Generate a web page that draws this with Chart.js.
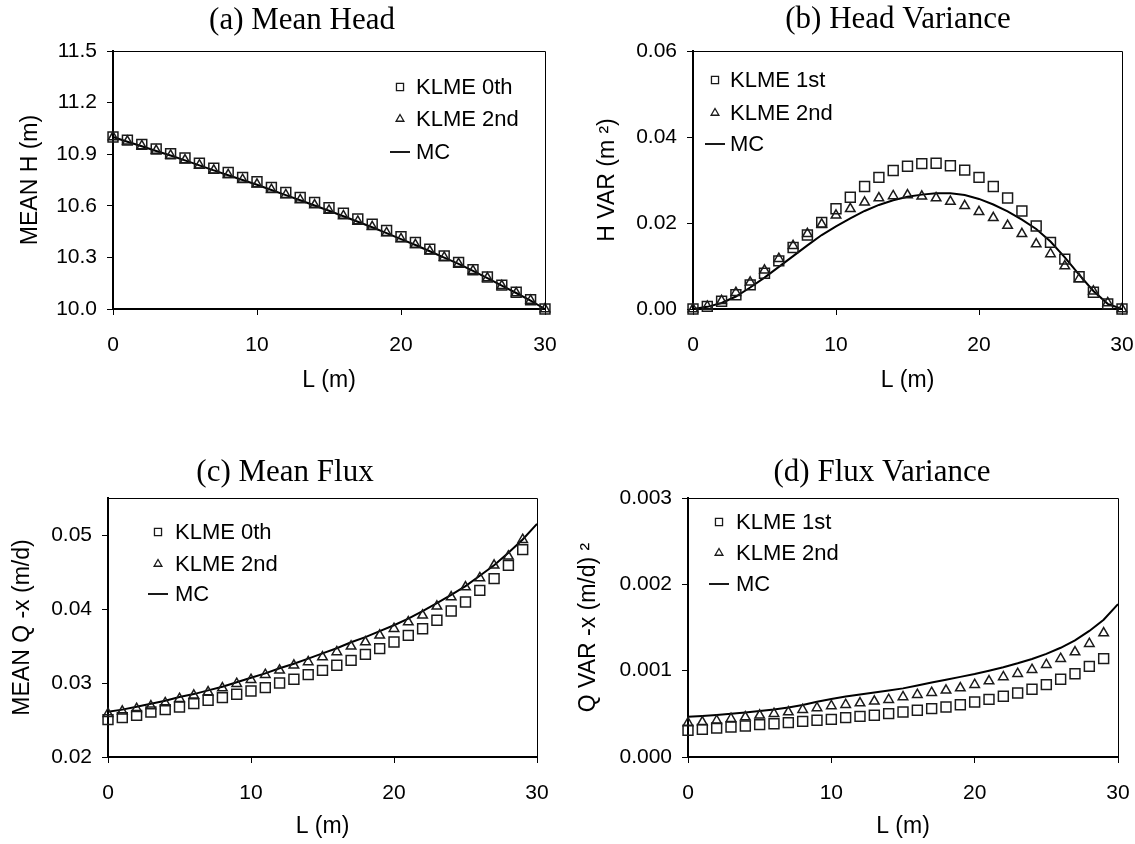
<!DOCTYPE html>
<html><head><meta charset="utf-8">
<script src="https://cdn.jsdelivr.net/npm/chart.js@4.4.1/dist/chart.umd.min.js"></script>
<style>
html,body{margin:0;padding:0;background:#fff;width:1135px;height:844px;overflow:hidden;position:relative}
canvas{position:absolute}
</style></head><body>
<canvas id="ca" width="560" height="400" style="left:0px;top:0px"></canvas>
<canvas id="cb" width="555" height="400" style="left:580px;top:0px"></canvas>
<canvas id="cc" width="560" height="404" style="left:0px;top:440px"></canvas>
<canvas id="cd" width="560" height="404" style="left:575px;top:440px"></canvas>
<script>
// ---- data ----
const L = [0,1,2,3,4,5,6,7,8,9,10,11,12,13,14,15,16,17,18,19,20,21,22,23,24,25,26,27,28,29,30];
const xTicks = [0,10,20,30];

// (a) Mean Head
const headKLME0 = [11.0,10.982,10.957,10.930,10.903,10.878,10.847,10.818,10.794,10.765,10.740,10.707,10.677,10.649,10.620,10.589,10.557,10.524,10.493,10.456,10.421,10.387,10.348,10.309,10.271,10.228,10.186,10.139,10.097,10.054,10.0];
const headKLME2 = [11.0,10.975,10.948,10.921,10.893,10.866,10.836,10.806,10.780,10.752,10.725,10.694,10.663,10.634,10.604,10.573,10.541,10.509,10.478,10.442,10.407,10.373,10.337,10.300,10.263,10.222,10.180,10.135,10.093,10.050,10.0];
const headMC    = [11.0,10.972,10.946,10.919,10.892,10.864,10.835,10.806,10.778,10.750,10.722,10.692,10.662,10.632,10.602,10.571,10.539,10.507,10.475,10.441,10.406,10.372,10.336,10.299,10.262,10.222,10.180,10.136,10.093,10.048,10.0];
const headTicks = [10.0,10.3,10.6,10.9,11.2,11.5];

// (b) Head Variance
const hvarKLME1 = [0,0.0006,0.0018,0.0033,0.0056,0.0083,0.0112,0.0143,0.0172,0.0201,0.0233,0.0260,0.0285,0.0306,0.0322,0.0332,0.0338,0.0339,0.0333,0.0323,0.0306,0.0285,0.0258,0.0228,0.0193,0.0155,0.0116,0.0075,0.0039,0.0012,0];
const hvarKLME2 = [0,0.0006,0.0019,0.0038,0.0062,0.0090,0.0117,0.0147,0.0175,0.0197,0.0218,0.0233,0.0248,0.0258,0.0263,0.0265,0.0262,0.0258,0.0250,0.0240,0.0226,0.0212,0.0194,0.0175,0.0151,0.0128,0.0100,0.0070,0.0041,0.0014,0];
const hvarMC    = [0,0.0005,0.0014,0.0029,0.0050,0.0073,0.0098,0.0123,0.0148,0.0172,0.0192,0.0211,0.0228,0.0242,0.0253,0.0261,0.0266,0.0269,0.0269,0.0265,0.0256,0.0243,0.0227,0.0208,0.0186,0.0157,0.0120,0.0080,0.0042,0.0012,0];
const hvarTicks = [0,0.02,0.04,0.06];

// (c) Mean Flux
const fluxKLME0 = [0.02505,0.02532,0.02563,0.02608,0.02640,0.02676,0.02721,0.02766,0.02802,0.02847,0.02892,0.02937,0.03000,0.03050,0.03113,0.03171,0.03239,0.03306,0.03387,0.03464,0.03554,0.03644,0.03734,0.03847,0.03973,0.04095,0.04252,0.04410,0.04590,0.04802];
const fluxKLME2 = [0.02586,0.02617,0.02653,0.02689,0.02730,0.02788,0.02833,0.02878,0.02932,0.02991,0.03045,0.03113,0.03171,0.03239,0.03284,0.03351,0.03419,0.03495,0.03554,0.03644,0.03734,0.03824,0.03914,0.04036,0.04162,0.04297,0.04419,0.04590,0.04712,0.04937];
const fluxMC    = [0.0261,0.0264,0.0268,0.0272,0.0276,0.0281,0.0285,0.0290,0.0295,0.0301,0.0307,0.0313,0.0320,0.0326,0.0333,0.0340,0.0347,0.0355,0.0362,0.0370,0.0378,0.0387,0.0397,0.0408,0.0419,0.0431,0.0445,0.0459,0.0476,0.0494,0.0515];
const fluxTicks = [0.02,0.03,0.04,0.05];

// (d) Flux Variance
const qvarKLME1 = [0.000309,0.000320,0.000336,0.000347,0.000359,0.000375,0.000386,0.000398,0.000413,0.000425,0.000436,0.000456,0.000471,0.000483,0.000502,0.000521,0.000541,0.000560,0.000579,0.000606,0.000637,0.000668,0.000703,0.000741,0.000784,0.000838,0.000900,0.000965,0.001050,0.001139];
const qvarKLME2 = [0.000394,0.000405,0.000421,0.000444,0.000463,0.000483,0.000502,0.000521,0.000548,0.000568,0.000591,0.000606,0.000625,0.000645,0.000664,0.000695,0.000722,0.000745,0.000772,0.000799,0.000838,0.000880,0.000927,0.000965,0.001012,0.001069,0.001139,0.001216,0.001313,0.001436];
const qvarMC    = [0.000465,0.000475,0.000487,0.000500,0.000515,0.000532,0.000550,0.000573,0.000603,0.000640,0.000672,0.000700,0.000724,0.000747,0.000770,0.000795,0.000827,0.000862,0.000895,0.000928,0.000962,0.001000,0.001040,0.001085,0.001135,0.001195,0.001265,0.001350,0.001460,0.001590,0.001770];
const qvarTicks = [0,0.001,0.002,0.003];

// ---- helpers ----
const SANS = '"Liberation Sans", Arial, sans-serif';
const SERIF = '"Liberation Serif", "Times New Roman", serif';
const INK = '#1a1a1a';
function pts(xs, ys){ return ys.map((v,i)=>({x:xs[i], y:v})); }

const framePlugin = {
  id:'frame',
  afterDraw(chart){
    const {ctx, chartArea:a} = chart;
    ctx.save();
    ctx.strokeStyle = '#000'; ctx.lineWidth = 1;
    ctx.beginPath();
    ctx.moveTo(a.left, a.top + 0.5); ctx.lineTo(a.right + 0.5, a.top + 0.5); ctx.lineTo(a.right + 0.5, a.bottom);
    ctx.stroke();
    ctx.restore();
  }
};
const panelTitle = {
  id:'panelTitle',
  afterDraw(chart, args, o){
    const {ctx, chartArea:a} = chart;
    ctx.save();
    ctx.font = '31px ' + SERIF;
    ctx.fillStyle = '#000';
    ctx.textAlign = 'center';
    ctx.textBaseline = 'middle';
    ctx.fillText(o.text, a.left + o.cx, a.top - o.dy);
    ctx.restore();
  }
};
const insideLegend = {
  id:'insideLegend',
  afterDraw(chart, args, o){
    const {ctx, chartArea:a} = chart;
    ctx.save();
    ctx.font = '22px ' + SANS;
    ctx.textBaseline = 'middle';
    ctx.textAlign = 'left';
    chart.data.datasets.forEach((ds, i) => {
      const y = a.top + o.rows[i];
      const mx = a.left + o.markerX;
      ctx.strokeStyle = INK; ctx.fillStyle = 'rgba(0,0,0,0)';
      if (ds.showLine) {
        ctx.lineWidth = 2;
        ctx.beginPath(); ctx.moveTo(mx - 10, y); ctx.lineTo(mx + 10, y); ctx.stroke();
      } else {
        ctx.lineWidth = 1.3;
        Chart.helpers.drawPoint(ctx, {pointStyle: ds.pointStyle, radius: ds.pointStyle === 'rect' ? 5 : 4.5, borderWidth: 1.3, rotation: 0}, mx, y);
      }
      ctx.fillStyle = '#000';
      ctx.fillText(ds.label, a.left + o.textX, y + 1);
    });
    ctx.restore();
  }
};

function makePanel(id, c){
  const marker = (label, data, style, r) => ({
    label, data: pts(L, data), showLine:false, pointStyle:style, pointRadius:r,
    pointBorderColor:INK, pointBackgroundColor:'rgba(0,0,0,0)', pointBorderWidth:1.5, clip:false
  });
  new Chart(document.getElementById(id), {
    type:'scatter',
    data:{ datasets:[
      marker(c.names[0], c.sq, 'rect', 7),
      marker(c.names[1], c.tr, 'triangle', 5.5),
      { label:'MC', data: pts(L, c.mc), showLine:true, pointRadius:0, borderColor:'#000', borderWidth:2, tension:0, fill:false, clip:false }
    ]},
    options:{
      responsive:false, animation:false, devicePixelRatio:1,
      layout:{ padding:{ left:0, right:c.padR, top:c.padT, bottom:0 } },
      plugins:{
        legend:{ display:false }, tooltip:{ enabled:false }, title:{ display:false },
        panelTitle: c.titlePos,
        insideLegend: c.legend
      },
      scales:{
        x:{ type:'linear', min:0, max:30,
          afterBuildTicks: s => { s.ticks = xTicks.map(v => ({value:v})); },
          afterFit: s => { s.height = c.xH; s.paddingLeft = 0; s.paddingRight = 0; },
          grid:{ drawOnChartArea:false, drawTicks:true, tickLength:6, color:'#000', lineWidth:1 },
          border:{ display:true, color:'#000', width:2 },
          ticks:{ color:'#000', font:{ family:SANS, size:21 }, padding:18, maxRotation:0, callback: v => String(v) },
          title:{ display:true, text:'L (m)', color:'#000', font:{ family:SANS, size:23 }, padding:{ top:0, bottom:c.xtPad } }
        },
        y:{ type:'linear', min:c.yTicks[0], max:c.yMax,
          afterBuildTicks: s => { s.ticks = c.yTicks.map(v => ({value:v})); },
          afterFit: s => { s.width = c.yW; s.paddingTop = 0; s.paddingBottom = 0; },
          grid:{ drawOnChartArea:false, drawTicks:true, tickLength:6, color:'#000', lineWidth:1 },
          border:{ display:true, color:'#000', width:2 },
          ticks:{ color:'#000', font:{ family:SANS, size:21 }, padding:10, callback: v => Number(v).toFixed(c.dec) },
          title:{ display:true, text:c.yTitle, color:'#000', font:{ family:SANS, size:23 }, padding:{ top:c.ytPad, bottom:0 } }
        }
      }
    },
    plugins:[framePlugin, panelTitle, insideLegend]
  });
}

makePanel('ca', { titlePos:{ text:'(a) Mean Head', cx:189, dy:30 }, names:['KLME 0th','KLME 2nd'], sq:headKLME0, tr:headKLME2, mc:headMC,
  yTicks:headTicks, yMax:11.5, dec:1, yTitle:'MEAN H (m)',
  padR:15, padT:51, yW:113, xH:91, xtPad:6, ytPad:17,
  legend:{ markerX:287, textX:303, rows:[36,68,101] } });
makePanel('cb', { titlePos:{ text:'(b) Head Variance', cx:205, dy:31 }, names:['KLME 1st','KLME 2nd'], sq:hvarKLME1, tr:hvarKLME2, mc:hvarMC,
  yTicks:hvarTicks, yMax:0.06, dec:2, yTitle:'H VAR (m ²)',
  padR:13, padT:51, yW:113, xH:91, xtPad:6, ytPad:14,
  legend:{ markerX:22, textX:37, rows:[29,62,93] } });
makePanel('cc', { titlePos:{ text:'(c) Mean Flux', cx:177, dy:25 }, names:['KLME 0th','KLME 2nd'], sq:fluxKLME0, tr:fluxKLME2, mc:fluxMC,
  yTicks:fluxTicks, yMax:0.055, dec:2, yTitle:'MEAN Q -x (m/d)',
  padR:23, padT:58, yW:108, xH:87, xtPad:3.5, ytPad:9,
  legend:{ markerX:50, textX:67, rows:[34,66,96] } });
makePanel('cd', { titlePos:{ text:'(d) Flux Variance', cx:194, dy:25 }, names:['KLME 1st','KLME 2nd'], sq:qvarKLME1, tr:qvarKLME2, mc:qvarMC,
  yTicks:qvarTicks, yMax:0.003, dec:3, yTitle:'Q VAR -x (m/d) ²',
  padR:17, padT:58, yW:113, xH:87, xtPad:3.5, ytPad:0,
  legend:{ markerX:31, textX:48, rows:[24,55,86] } });
</script>
</body></html>
